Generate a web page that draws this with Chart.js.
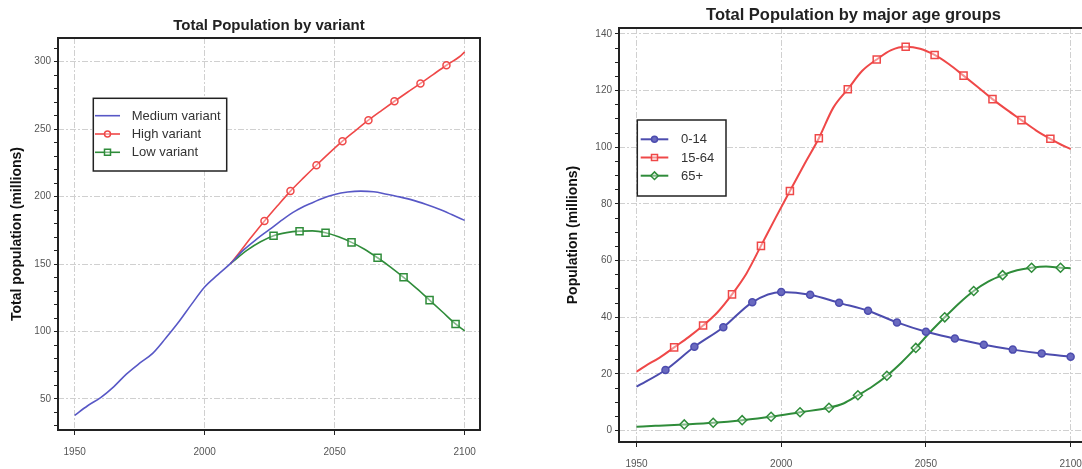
<!DOCTYPE html>
<html><head><meta charset="utf-8">
<script src="https://cdn.jsdelivr.net/npm/chart.js@4/dist/chart.umd.min.js"></script>
<style>
html,body{margin:0;padding:0;background:#fff;overflow:hidden;width:1082px;height:469px;position:relative}
#c1{position:absolute;left:0;top:0}
#c2{position:absolute;left:540px;top:0}
</style></head><body>
<canvas id="c1" width="540" height="469"></canvas>
<canvas id="c2" width="560" height="469"></canvas>
<script>
// ---------- Left chart: Total Population by variant ----------
const mediumYears = [1950,1955,1960,1965,1970,1975,1980,1985,1990,1995,2000,2005,2010,2015,2020,2025,2030,2035,2040,2045,2050,2055,2060,2065,2070,2075,2080,2085,2090,2095,2100];
const mediumValues = [37.8,45,51,59,68.6,76.5,83.8,95,107,120.3,133,142,150.5,160.5,168.5,175.7,183,189.4,194.3,198.5,201.6,203.4,204.1,203.6,201.8,199.8,197.4,194.3,190.8,186.7,182.4];
const highYears = [2010,2013,2018,2023,2028,2033,2038,2043,2048,2053,2058,2063,2068,2073,2078,2083,2088,2093,2098,2100];
const highValues = [150.5,157.7,170,181.9,193.2,204.1,213.9,223.3,232.4,241.1,249.0,256.7,263.8,270.7,277.4,283.9,290.7,297.4,303.7,307.3];
const highMarkerYears = [2023,2033,2043,2053,2063,2073,2083,2093];
const lowYears = [2010,2016.5,2021.5,2026.5,2031.5,2036.5,2041.5,2046.5,2051.5,2056.5,2061.5,2066.5,2071.5,2076.5,2081.5,2086.5,2091.5,2096.5,2100];
const lowValues = [150.5,160.5,166.5,171.0,173.3,174.4,174.6,173.2,170.2,166.1,161.0,154.7,147.8,140.2,132.0,123.3,114.5,105.6,100.4];
const lowMarkerYears = [2026.5,2036.5,2046.5,2056.5,2066.5,2076.5,2086.5,2096.5];
const leftXTicks = [1950,2000,2050,2100];
const leftYTicks = [50,100,150,200,250,300];

// ---------- Right chart: Total Population by major age groups ----------
const childYears = [1950,1960,1970,1980,1990,2000,2010,2020,2030,2040,2050,2060,2070,2080,2090,2100];
const childValues = [15.5,21.4,29.6,36.5,45.3,48.9,48.0,45.1,42.3,38.2,34.9,32.5,30.3,28.6,27.2,26.1];
const childMarkerYears = [1960,1970,1980,1990,2000,2010,2020,2030,2040,2050,2060,2070,2080,2090,2100];
const workingYears = [1950,1953,1958,1963,1968,1973,1978,1983,1988,1993,1998,2003,2008,2013,2018,2023,2028,2033,2038,2043,2048,2053,2058,2063,2068,2073,2078,2083,2088,2093,2098,2100];
const workingValues = [20.8,22.8,25.8,29.4,33.0,37.1,41.8,48.1,55.5,65.2,75.0,84.6,94.0,103.2,114.0,120.5,127.0,131.0,134.3,135.5,134.8,132.6,129.3,125.3,121.2,117.0,113.2,109.6,106.0,103.0,100.3,99.4];
const workingMarkerYears = [1963,1973,1983,1993,2003,2013,2023,2033,2043,2053,2063,2073,2083,2093];
const elderYears = [1950,1956.5,1966.5,1976.5,1986.5,1996.5,2006.5,2016.5,2021.5,2026.5,2031.5,2036.5,2041.5,2046.5,2051.5,2056.5,2061.5,2066.5,2071.5,2076.5,2081.5,2086.5,2091.5,2096.5,2100];
const elderValues = [1.4,1.7,2.2,2.8,3.7,4.9,6.5,8.1,9.6,12.5,15.6,19.4,24.0,29.2,34.8,40.0,45.0,49.3,52.6,54.9,56.6,57.5,57.9,57.5,57.3];
const elderMarkerYears = [1966.5,1976.5,1986.5,1996.5,2006.5,2016.5,2026.5,2036.5,2046.5,2056.5,2066.5,2076.5,2086.5,2096.5];
const rightXTicks = [1950,2000,2050,2100];
const rightYTicks = [0,20,40,60,80,100,120,140];

const FONT = '"Liberation Sans", Arial, Helvetica, sans-serif';
const BLUE = '#5858c6', BLUE2 = '#4c4cae', RED = '#ef4848', GREEN = '#2f8c3a';

function series(label, years, values, style, markerYears, radius) {
  const ds = Object.assign({
    label,
    data: years.map((x, i) => ({x, y: values[i]})),
    fill: false,
    cubicInterpolationMode: 'monotone'
  }, style);
  ds.pointRadius = ctx => (ctx.raw && markerYears && markerYears.includes(ctx.raw.x)) ? radius : 0;
  ds.legendRadius = markerYears ? radius * 0.85 : 0;
  return ds;
}

function range(a, b, s) { const r = []; for (let v = a; v <= b + 1e-9; v += s) r.push(v); return r; }

const boxLegend = {
  id: 'boxLegend',
  afterDraw(chart, args, o) {
    const ctx = chart.ctx;
    ctx.save();
    ctx.fillStyle = '#fff';
    ctx.fillRect(o.x, o.y, o.w, o.h);
    ctx.strokeStyle = '#222'; ctx.lineWidth = 1.5;
    ctx.strokeRect(o.x, o.y, o.w, o.h);
    chart.data.datasets.forEach((ds, i) => {
      const cy = o.y + o.first + i * o.row;
      ctx.strokeStyle = ds.borderColor; ctx.lineWidth = ds.borderWidth;
      ctx.beginPath(); ctx.moveTo(o.x + o.l0, cy); ctx.lineTo(o.x + o.l1, cy); ctx.stroke();
      if (ds.legendRadius) {
        ctx.fillStyle = ds.pointBackgroundColor; ctx.strokeStyle = ds.pointBorderColor;
        ctx.lineWidth = ds.pointBorderWidth;
        Chart.helpers.drawPoint(ctx, {pointStyle: ds.pointStyle, rotation: 0, radius: ds.legendRadius, borderWidth: ds.pointBorderWidth}, o.x + (o.l0 + o.l1) / 2, cy);
      }
      ctx.fillStyle = '#333'; ctx.font = o.size + 'px ' + FONT;
      ctx.textAlign = 'left'; ctx.textBaseline = 'middle';
      ctx.fillText(ds.label, o.x + o.tx, cy + 0.5);
    });
    ctx.restore();
  }
};
const plotTitle = {
  id: 'plotTitle',
  afterDraw(chart, args, o) {
    const ctx = chart.ctx, a = chart.chartArea;
    ctx.save();
    ctx.font = 'bold ' + o.size + 'px ' + FONT;
    ctx.fillStyle = '#222'; ctx.textAlign = 'center'; ctx.textBaseline = 'alphabetic';
    ctx.fillText(o.text, (a.left + a.right) / 2, o.y);
    ctx.restore();
  }
};
const frame = {
  id: 'frame',
  afterDatasetsDraw(chart) {
    const ctx = chart.ctx, a = chart.chartArea;
    ctx.save();
    ctx.strokeStyle = '#222'; ctx.lineWidth = 2;
    ctx.strokeRect(a.left, a.top, a.right - a.left, a.bottom - a.top);
    ctx.restore();
  }
};

function makeOptions(c) {
  const tickFont = {family: FONT, size: 10};
  return {
    responsive: false, animation: false, devicePixelRatio: 1, events: [],
    layout: {padding: c.padding},
    plugins: {legend: {display: false}, tooltip: {enabled: false}, boxLegend: c.legend, plotTitle: c.title},
    scales: {
      x: {
        type: 'linear', min: c.xMin, max: c.xMax,
        afterBuildTicks: s => { s.ticks = c.xTicks.map(v => ({value: v})); },
        afterFit: s => { s.height = c.xHeight; },
        ticks: {callback: v => String(v), autoSkip: false, maxRotation: 0, padding: c.xPad, font: tickFont, color: '#555'},
        grid: {color: '#d0d0d0', lineWidth: 1, tickLength: 5, tickColor: '#222', tickWidth: 1},
        border: {display: false, dash: [6, 2, 2, 2]}
      },
      y: {
        type: 'linear', min: c.yMin, max: c.yMax,
        afterBuildTicks: s => { s.ticks = c.yMinor.map(v => ({value: v})); },
        afterFit: s => { s.width = c.yWidth; },
        ticks: {autoSkip: false, padding: 3, font: tickFont, color: '#555',
                callback: v => c.yTicks.includes(v) ? String(v) : ''},
        grid: {color: ctx => (ctx.tick && c.yTicks.includes(ctx.tick.value)) ? '#d0d0d0' : 'rgba(0,0,0,0)',
               lineWidth: 1, tickLength: 4, tickColor: '#222', tickWidth: 1},
        border: {display: false, dash: [6, 2, 2, 2]},
        title: {display: true, text: c.yTitle, color: '#111',
                font: {family: FONT, size: 14, weight: 'bold'}, padding: {top: c.yTitlePad, bottom: 0}}
      }
    }
  };
}

new Chart(document.getElementById('c1'), {
  type: 'line',
  data: {datasets: [
    series('Medium variant', mediumYears, mediumValues, {borderColor: BLUE, borderWidth: 1.6}, null, 0),
    series('High variant', highYears, highValues, {borderColor: RED, borderWidth: 1.6, pointStyle: 'circle',
      pointBorderColor: RED, pointBackgroundColor: 'rgba(255,255,255,0.4)', pointBorderWidth: 1.5}, highMarkerYears, 3.5),
    series('Low variant', lowYears, lowValues, {borderColor: GREEN, borderWidth: 1.6, pointStyle: 'rect',
      pointBorderColor: GREEN, pointBackgroundColor: 'rgba(255,255,255,0.4)', pointBorderWidth: 1.5}, lowMarkerYears, 5)
  ]},
  options: makeOptions({
    padding: {top: 38, right: 60, left: 0, bottom: 0},
    xMin: 1943.6, xMax: 2105.9, xTicks: leftXTicks, xHeight: 39, xPad: 11,
    yMin: 27.0, yMax: 317.6, yTicks: leftYTicks, yMinor: range(30, 310, 10), yWidth: 58,
    yTitle: 'Total population (millions)', yTitlePad: 8.6,
    legend: {x: 93.3, y: 98.3, w: 133.4, h: 72.7, l0: 1.7, l1: 26.7, tx: 38.4, first: 17.4, row: 18.3, size: 13},
    title: {text: 'Total Population by variant', size: 15, y: 29.5}
  }),
  plugins: [boxLegend, plotTitle, frame]
});

new Chart(document.getElementById('c2'), {
  type: 'line',
  data: {datasets: [
    series('0-14', childYears, childValues, {borderColor: BLUE2, borderWidth: 2, pointStyle: 'circle',
      pointBorderColor: BLUE2, pointBackgroundColor: '#6a6ac0', pointBorderWidth: 1.5}, childMarkerYears, 3.5),
    series('15-64', workingYears, workingValues, {borderColor: RED, borderWidth: 2, pointStyle: 'rect',
      pointBorderColor: RED, pointBackgroundColor: 'rgba(255,255,255,0.4)', pointBorderWidth: 1.5}, workingMarkerYears, 5),
    series('65+', elderYears, elderValues, {borderColor: GREEN, borderWidth: 2, pointStyle: 'rectRot',
      pointBorderColor: GREEN, pointBackgroundColor: 'rgba(255,255,255,0.4)', pointBorderWidth: 1.5}, elderMarkerYears, 4.5)
  ]},
  options: makeOptions({
    padding: {top: 28, right: 12, left: 0, bottom: 0},
    xMin: 1943.95, xMax: 2106, xTicks: rightXTicks, xHeight: 27, xPad: 11,
    yMin: -4.0, yMax: 142.1, yTicks: rightYTicks, yMinor: range(0, 140, 5), yWidth: 79,
    yTitle: 'Population (millions)', yTitlePad: 24.4,
    legend: {x: 97.3, y: 120, w: 88.7, h: 76, l0: 3.4, l1: 31, tx: 43.7, first: 19.3, row: 18.2, size: 13},
    title: {text: 'Total Population by major age groups', size: 16.5, y: 20}
  }),
  plugins: [boxLegend, plotTitle, frame]
});
</script>
</body></html>
